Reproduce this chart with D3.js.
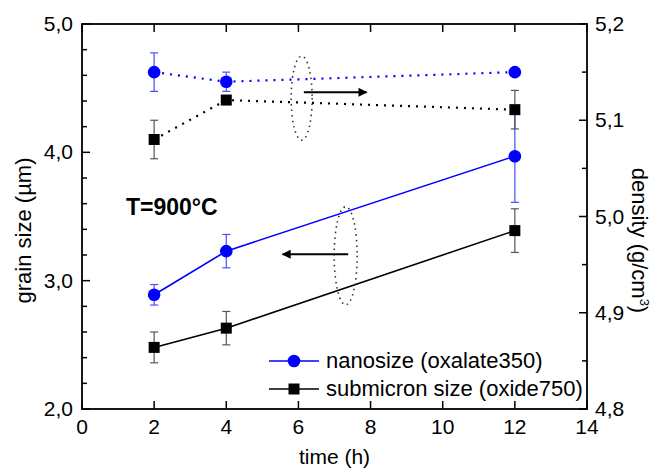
<!DOCTYPE html>
<html lang="en">

<head>
    <meta charset="utf-8">
    <title>grain size / density vs time</title>
    <script src="https://cdn.jsdelivr.net/npm/d3@7"></script>
    <style>
        body { margin: 0; background: #fff; }
        svg { font-family: "Liberation Sans", Arial, sans-serif; }
    </style>
</head>

<body>
    <script>
        // data
        var times = [2, 4, 12];
        var grainNano = [2.89, 3.23, 3.97];
        var grainNanoErr = [0.08, 0.13, 0.36];
        var grainSub = [2.48, 2.63, 3.39];
        var grainSubErr = [0.12, 0.13, 0.17];
        var densNano = [5.150, 5.140, 5.150];
        var densNanoErr = [0.02, 0.01, 0];
        var densSub = [5.080, 5.121, 5.111];
        var densSubErr = [0.02, 0, 0.02];

        var xTicks = [0, 2, 4, 6, 8, 10, 12, 14];
        var yLeftTicks = [2.0, 3.0, 4.0, 5.0];
        var yRightTicks = [4.8, 4.9, 5.0, 5.1, 5.2];
        var legendLabels = ['nanosize (oxalate350)', 'submicron size (oxide750)'];

        var W = 656, H = 470;
        var margin = { top: 24, right: 69, bottom: 61, left: 82 };

        var svg = d3.select('body').append('svg')
            .attr('width', W).attr('height', H);

        var x = d3.scaleLinear().domain([0, 14]).range([margin.left, W - margin.right]);
        var yL = d3.scaleLinear().domain([2, 5]).range([H - margin.bottom, margin.top]);
        var yR = d3.scaleLinear().domain([4.8, 5.2]).range([H - margin.bottom, margin.top]);

        var fmt = d => d.toFixed(1).replace('.', ',');

        function drawAxes() {
            var g = svg.append('g');
            // frame
            g.append('rect')
                .attr('x', x(0)).attr('y', yL(5))
                .attr('width', x(14) - x(0)).attr('height', yL(2) - yL(5))
                .attr('fill', 'none').attr('stroke', '#000').attr('stroke-width', 1.8);

            // x ticks bottom + top, pointing in
            xTicks.forEach(t => {
                g.append('line').attr('x1', x(t)).attr('x2', x(t))
                    .attr('y1', yL(2)).attr('y2', yL(2) - 8)
                    .attr('stroke', '#000').attr('stroke-width', 1.5);
                g.append('line').attr('x1', x(t)).attr('x2', x(t))
                    .attr('y1', yL(5)).attr('y2', yL(5) + 8)
                    .attr('stroke', '#000').attr('stroke-width', 1.5);
                g.append('text').attr('x', x(t)).attr('y', yL(2) + 25)
                    .attr('text-anchor', 'middle').style('font-size', '21px')
                    .text(t);
            });

            // left: major 1.0, minor 0.2
            d3.range(2, 5.001, 0.2).forEach(v => {
                var major = Math.abs(v - Math.round(v)) < 1e-6;
                g.append('line').attr('x1', x(0)).attr('x2', x(0) + (major ? 8 : 5))
                    .attr('y1', yL(v)).attr('y2', yL(v))
                    .attr('stroke', '#000').attr('stroke-width', 1.5);
            });
            yLeftTicks.forEach(v => {
                g.append('text').attr('x', x(0) - 9).attr('y', yL(v) + 7)
                    .attr('text-anchor', 'end').style('font-size', '21px')
                    .text(fmt(v));
            });

            // right: major 0.1, minor 0.05
            d3.range(4.8, 5.2001, 0.05).forEach((v, i) => {
                var major = i % 2 == 0;
                g.append('line').attr('x1', x(14)).attr('x2', x(14) - (major ? 8 : 5))
                    .attr('y1', yR(v)).attr('y2', yR(v))
                    .attr('stroke', '#000').attr('stroke-width', 1.5);
            });
            yRightTicks.forEach(v => {
                g.append('text').attr('x', x(14) + 8).attr('y', yR(v) + 7)
                    .attr('text-anchor', 'start').style('font-size', '21px')
                    .text(fmt(v));
            });

            // titles
            g.append('text').attr('x', (x(0) + x(14)) / 2).attr('y', H - 6)
                .attr('text-anchor', 'middle').style('font-size', '21px')
                .text('time (h)');
            g.append('text')
                .attr('transform', `translate(31, ${(yL(2) + yL(5)) / 2 + 14}) rotate(-90)`)
                .attr('text-anchor', 'middle').style('font-size', '22px')
                .text('grain size (µm)');
            var rt = g.append('text')
                .attr('transform', `translate(632, ${(yR(4.8) + yR(5.2)) / 2 + 24}) rotate(90)`)
                .attr('text-anchor', 'middle').style('font-size', '22px');
            rt.append('tspan').text('density (g/cm');
            rt.append('tspan').attr('dy', -8).style('font-size', '13px').text('3');
            rt.append('tspan').attr('dy', 8).text(')');
        }

        function drawSeries(vals, errs, y, color, errColor, dotted, marker) {
            var pts = times.map((t, i) => ({ t: t, v: vals[i], e: errs[i] }));
            var g = svg.append('g');
            var line = d3.line().x(d => x(d.t)).y(d => y(d.v));
            g.append('path').datum(pts).attr('d', line)
                .attr('fill', 'none').attr('stroke', color)
                .attr('stroke-width', dotted ? 2.2 : 1.6)
                .attr('stroke-dasharray', dotted ? '2,6' : null);

            // error bars
            pts.filter(d => d.e > 0).forEach(d => {
                g.append('line').attr('x1', x(d.t)).attr('x2', x(d.t))
                    .attr('y1', y(d.v - d.e)).attr('y2', y(d.v + d.e))
                    .attr('stroke', errColor).attr('stroke-width', 1.2);
                [d.v - d.e, d.v + d.e].forEach(v => {
                    g.append('line').attr('x1', x(d.t) - 4).attr('x2', x(d.t) + 4)
                        .attr('y1', y(v)).attr('y2', y(v))
                        .attr('stroke', errColor).attr('stroke-width', 1.2);
                });
            });

            pts.forEach(d => drawMarker(g, marker, x(d.t), y(d.v), color));
        }

        function drawMarker(g, marker, cx, cy, color) {
            if (marker == 'circle') {
                g.append('circle').attr('cx', cx).attr('cy', cy).attr('r', 6.3).attr('fill', color);
            } else {
                g.append('rect').attr('x', cx - 5.5).attr('y', cy - 5.5)
                    .attr('width', 11).attr('height', 11).attr('fill', color);
            }
        }

        function drawAnnotations() {
            var defs = svg.append('defs');
            defs.append('marker').attr('id', 'head')
                .attr('viewBox', '0 0 10 10').attr('refX', 9).attr('refY', 5)
                .attr('markerWidth', 5).attr('markerHeight', 4.5)
                .attr('orient', 'auto')
                .append('path').attr('d', 'M0,0 L10,5 L0,10 z').attr('fill', '#000');

            var g = svg.append('g');
            // density group -> right axis
            g.append('ellipse').attr('cx', x(6.09)).attr('cy', yR(5.123))
                .attr('rx', 10.5).attr('ry', 42)
                .attr('fill', 'none').attr('stroke', '#333').attr('stroke-width', 1.6)
                .attr('stroke-dasharray', '1.5,4');
            g.append('line').attr('x1', x(6.15)).attr('x2', x(7.89))
                .attr('y1', yR(5.129)).attr('y2', yR(5.129))
                .attr('stroke', '#000').attr('stroke-width', 2)
                .attr('marker-end', 'url(#head)');

            // grain group -> left axis
            g.append('ellipse').attr('cx', x(7.31)).attr('cy', yL(3.194))
                .attr('rx', 11.5).attr('ry', 49)
                .attr('fill', 'none').attr('stroke', '#333').attr('stroke-width', 1.6)
                .attr('stroke-dasharray', '1.5,4');
            g.append('line').attr('x1', x(7.38)).attr('x2', x(5.56))
                .attr('y1', yL(3.206)).attr('y2', yL(3.206))
                .attr('stroke', '#000').attr('stroke-width', 2)
                .attr('marker-end', 'url(#head)');

            g.append('text').attr('x', x(1.22)).attr('y', yL(3.51))
                .style('font-size', '23px').style('font-weight', 'bold')
                .text('T=900°C');
        }

        function drawLegend() {
            var g = svg.append('g');
            var items = [
                { label: legendLabels[0], color: '#0000ff', marker: 'circle' },
                { label: legendLabels[1], color: '#000', marker: 'square' }
            ];
            items.forEach((d, i) => {
                var yy = 361 + i * 28;
                g.append('line').attr('x1', 269).attr('x2', 319)
                    .attr('y1', yy).attr('y2', yy)
                    .attr('stroke', d.color).attr('stroke-width', 1.6);
                drawMarker(g, d.marker, 294, yy, d.color);
                g.append('text').attr('x', 326).attr('y', yy + 7)
                    .style('font-size', '22px').text(d.label);
            });
        }

        drawAxes();
        drawSeries(grainNano, grainNanoErr, yL, '#0000ff', '#4d4dff', false, 'circle');
        drawSeries(grainSub, grainSubErr, yL, '#000', '#555', false, 'square');
        drawSeries(densNano, densNanoErr, yR, '#0000ff', '#4d4dff', true, 'circle');
        drawSeries(densSub, densSubErr, yR, '#000', '#555', true, 'square');
        drawAnnotations();
        drawLegend();
    </script>
</body>

</html>
